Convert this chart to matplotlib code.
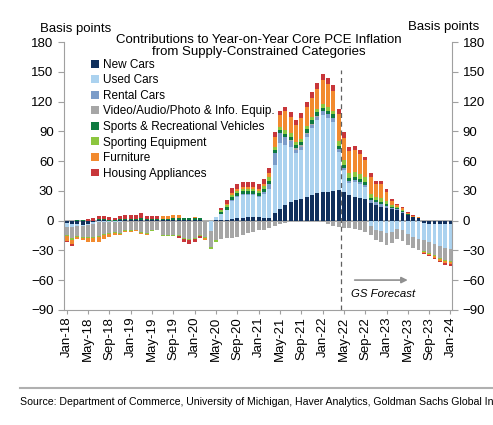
import numpy as np
import pandas as pd
import matplotlib
matplotlib.use('Agg')
import matplotlib.pyplot as plt

plt.rcParams['font.family'] = ['Liberation Sans', 'DejaVu Sans']

months = pd.date_range('2018-01-01', '2024-01-01', freq='MS')
tick_labels = [d.strftime('%b-%y') for d in months[::4]]

new_cars = [-2, -3, -3, -4, -3, -1,
            1, 1, 0, 0, 1, 1, 1, 1, 1, 1, 1, 1, 1, 1, 1, 1, 1, 1, 1, 1,
            0, 0, 1,
            1, 1, 2, 3, 3, 4, 4, 4, 3, 3, 8,
            12, 16, 19, 21, 22, 24, 26, 28, 29, 29, 30,
            31, 29, 26, 24, 23, 22, 18, 16, 14, 13, 12, 11, 8, 6, 4, 3,
            -2, -3, -3, -3, -3, -3]
used_cars = [-4, -3, -2, -1, -1, -2,
             -1, -1, -1, -1, -1, 0, 0, 0, 0, 0, 0, 0, 0, 0, 0, 0, 0, 0, 0, 0,
             0, -11, 3,
             6, 10, 18, 21, 23, 22, 22, 20, 24, 29, 48,
             66, 60, 55, 47, 49, 60, 67, 73, 77, 74, 69,
             38, 22, 12, 15, 14, 12,
             -5, -9, -11, -13, -12, -8, -10, -14, -17, -19, -18, -19, -21, -23, -25, -26]
rental_cars = [0] * 29 + \
              [0, 0, 1, 1, 1, 1, 1, 1, 2, 5, 12,
               10, 8, 6, 3, 3, 3, 3, 3, 4, 4, 4,
               3, 2, 2, 2, 2, 2, 3, 3, 3, 2, 1, 1, 1, 0, 0, 0,
               0, 0, 0, 0, 0, 0]
video_audio = [-9, -12, -11, -12, -13, -14,
               -15, -13, -12, -11, -12, -10, -10, -9, -12, -13, -10, -9, -15, -15, -15, -15, -18, -19, -18, -15,
               -17, -16, -20,
               -19, -18, -18, -17, -15, -13, -12, -10, -9, -7, -5,
               -3, -2, 1, 2, 2, 1, 1, 1, -1, -3, -5,
               -6, -7, -7, -8, -10, -12,
               -10, -11, -11, -12, -11, -11, -11, -11, -11, -11, -11, -11, -11, -12, -12, -12]
sports_rec = [0, 0, 1, 1, 0, 0,
              1, 1, 1, 1, 1, 1, 1, 1, 2, 1, 1, 1, 1, 1, 2, 2, 2, 2, 2, 2,
              0, 0, 0,
              2, 3, 3, 3, 3, 3, 3, 3, 3, 3, 3,
              3, 3, 3, 3, 3, 4, 4, 4, 4, 4, 4,
              3, 3, 3, 3, 3, 3, 2, 2, 2, 2, 1, 1, 1, 1, 0, 0,
              0, 0, 0, 0, 0, 0]
sporting_equip = [-1, -2, -1, -1, -1, -1,
                  -1, -1, -1, -1, -1, -1, -1, -1, -1, -1, -1, -1, -1, -1, -1, -1, -1, -1, -1, -1,
                  -1, -2, -2,
                  2, 2, 2, 2, 2, 2, 2, 2, 3, 4, 3,
                  3, 4, 4, 3, 3, 3, 3, 4, 4, 4, 4,
                  5, 5, 5, 5, 5, 5, 4, 3, 4, 3, 2, 1, 1, 0, 0, 0,
                  -1, -1, -1, -1, -1, -1]
furniture = [-5, -4, -2, -2, -4, -4,
             -5, -4, -3, -2, -1, -1, -1, -1, -1, -1, 0, 0, 3, 3, 3, 3, 0, 0, 1, 0,
             -2, 0, 0,
             0, 1, 2, 2, 2, 2, 2, 2, 2, 4, 10,
             12, 19, 16, 17, 21, 20, 20, 20, 24, 23, 20,
             27, 22, 22, 22, 20, 17, 17, 13, 14, 9, 4, 2, 2, 1, 1, 1,
             -1, -1, -2, -2, -2, -2]
housing = [-1, -2, 0, 0, 2, 3,
           3, 3, 3, 2, 3, 4, 4, 4, 5, 3, 3, 3, 0, 0, 0, -2, -3, -4, -3, -2,
           0, 0, 0,
           2, 4, 5, 5, 5, 5, 5, 5, 5, 5, 5,
           4, 5, 5, 5, 5, 5, 6, 6, 6, 6, 6,
           6, 6, 4, 4, 4, 3, 4, 3, 3, 3, 2, 1, 1, 1, 1, 0,
           -1, -1, -1, -1, -2, -2]

series = [
    ('New Cars', new_cars, '#0f2f5c'),
    ('Used Cars', used_cars, '#abd2ef'),
    ('Rental Cars', rental_cars, '#7b9cc9'),
    ('Video/Audio/Photo & Info. Equip.', video_audio, '#a6a6a6'),
    ('Sports & Recreational Vehicles', sports_rec, '#0e7a3f'),
    ('Sporting Equipment', sporting_equip, '#8cc63e'),
    ('Furniture', furniture, '#f28a2e'),
    ('Housing Appliances', housing, '#c8363a'),
]

x = np.arange(len(months))

fig = plt.figure(figsize=(4.93, 4.25), dpi=100)
ax = fig.add_axes([0.130, 0.271, 0.787, 0.630])

pos_bottom = np.zeros(len(x))
neg_bottom = np.zeros(len(x))
for name, vals, color in series:
    v = np.array(vals, dtype=float)
    pos = np.where(v > 0, v, 0)
    neg = np.where(v < 0, v, 0)
    ax.bar(x, pos, 0.74, bottom=pos_bottom, color=color, label=name, linewidth=0)
    ax.bar(x, neg, 0.74, bottom=neg_bottom, color=color, linewidth=0)
    pos_bottom += pos
    neg_bottom += neg

ax.axhline(0, color='#a0a0a0', lw=1.2, zorder=0.5)
ax.plot([51.4, 51.4], [-90, 152], ls=(0, (4, 3)), color='#606060', lw=0.9)

# forecast marker
ax.annotate('', xy=(64.5, -60), xytext=(53.5, -60),
            arrowprops=dict(arrowstyle='-|>', color='#909090', lw=1.2, mutation_scale=9))
ax.text(53.4, -74, 'GS Forecast', fontsize=8.2, style='italic', va='center', ha='left')

ax.set_xlim(-0.5, 72.3)
ax.set_ylim(-90, 180)
ax.set_yticks(np.arange(-90, 181, 30))
ax.set_xticks(x[::4])
ax.set_xticklabels(tick_labels, rotation=90, fontsize=9.5)
ax.tick_params(axis='y', labelsize=9.5, length=4, color='#a0a0a0',
               left=True, right=True, labelleft=True, labelright=True)
ax.tick_params(axis='x', length=3, color='#a0a0a0', pad=2)
for s in ['left', 'right', 'bottom']:
    ax.spines[s].set_color('#a0a0a0')
ax.spines['top'].set_visible(False)

fig.text(0.082, 0.924, 'Basis points', fontsize=9.5)
fig.text(0.828, 0.930, 'Basis points', fontsize=9.5)
fig.text(0.525, 0.892, 'Contributions to Year-on-Year Core PCE Inflation\nfrom Supply-Constrained Categories',
         fontsize=9.5, ha='center', va='center', linespacing=1.05)

ax.legend(loc='upper left', bbox_to_anchor=(0.058, 0.955), frameon=False, fontsize=8.5,
          handlelength=0.65, handleheight=0.65, handletextpad=0.35, labelspacing=0.3,
          borderaxespad=0)

fig.add_artist(plt.Line2D([0.04, 1.0], [0.087, 0.087], color='#b0b0b0', lw=1.5))
fig.text(0.04, 0.048, 'Source: Department of Commerce, University of Michigan, Haver Analytics, '
         'Goldman Sachs Global Investment Research', fontsize=7.6)

fig.savefig('out.png', dpi=100)
